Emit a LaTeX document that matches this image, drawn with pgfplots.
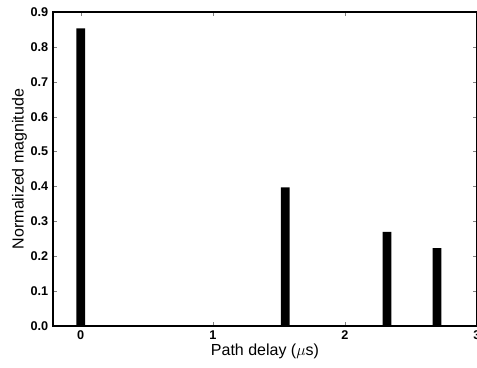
\documentclass[border=0pt]{standalone}
\usepackage{pgfplots}
\pgfplotsset{compat=1.18}
\usepackage{fontspec}
\setmainfont{Liberation Sans}
\begin{document}
\begin{tikzpicture}
\begin{axis}[
  at={(0,0)}, anchor=south west,
  scale only axis, width=318pt, height=235.5pt,
  xmin=-0.21, xmax=3, ymin=0, ymax=0.9,
  xtick={0,1,2,3}, ytick={0,0.1,...,0.9},
  yticklabel style={/pgf/number format/fixed,/pgf/number format/precision=1,/pgf/number format/fixed zerofill},
  /pgf/number format/assume math mode=true,
  tick align=inside, tick pos=both,
  major tick length=3pt,
  tick label style={font=\bfseries\fontsize{9.5}{11}\selectfont},
  label style={font=\fontsize{12}{14}\selectfont},
  xlabel={Path delay ($\mu$s)},
  ylabel={Normalized magnitude},
  xlabel style={yshift=4pt},
  ylabel style={yshift=-4pt},
  axis line style={line width=0.9pt},
]
\addplot[ybar, bar width=6.5pt, fill=black, draw=none, bar shift=0pt] coordinates {
 (0,0.853) (1.548,0.397) (2.318,0.270) (2.697,0.223)
};
\end{axis}
\pgfresetboundingbox
\path[use as bounding box] (-39.75pt,-30.75pt) rectangle (318pt,244.5pt);
\end{tikzpicture}
\end{document}
